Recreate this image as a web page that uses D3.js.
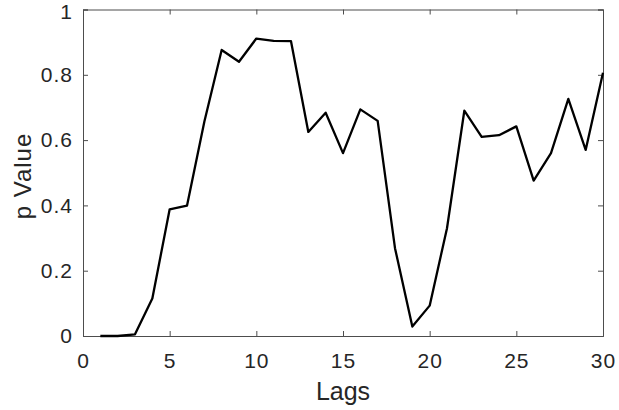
<!DOCTYPE html>
<html>
<head>
<meta charset="utf-8">
<script src="https://cdn.jsdelivr.net/npm/d3@7"></script>
<style>
  body { margin: 0; background: #fff; }
  svg text { font-family: "Liberation Sans", Arial, sans-serif; fill: #262626; }
</style>
</head>
<body>
<div id="chart"></div>
<script>
// Données
const lags = d3.range(1, 31);
const pValues = [0.0, 0.0, 0.005, 0.115, 0.388, 0.399, 0.656, 0.876, 0.840, 0.911,
                 0.904, 0.903, 0.625, 0.684, 0.560, 0.694, 0.659, 0.269, 0.029, 0.093,
                 0.330, 0.690, 0.610, 0.615, 0.642, 0.476, 0.560, 0.726, 0.570, 0.806];
const xTicks = [0, 5, 10, 15, 20, 25, 30];
const yTicks = [0, 0.2, 0.4, 0.6, 0.8, 1];

const width = 619, height = 410;
const margin = { top: 9.5, right: 16, bottom: 74, left: 83 };

const x = d3.scaleLinear().domain([0, 30]).range([margin.left, width - margin.right]);
const y = d3.scaleLinear().domain([0, 1]).range([height - margin.bottom, margin.top]);

const svg = d3.select("#chart").append("svg")
    .attr("width", width)
    .attr("height", height);

const axisColor = "#4d4d4d";

// axes (ticks vers l'intérieur, boîte complète)
const gx = svg.append("g")
    .attr("transform", `translate(0,${y(0)})`)
    .call(d3.axisBottom(x).tickValues(xTicks).tickSize(-5).tickPadding(17).tickFormat(d3.format("d")));
const gxTop = svg.append("g")
    .attr("transform", `translate(0,${y(1)})`)
    .call(d3.axisTop(x).tickValues(xTicks).tickSize(-5).tickFormat(""));
const gy = svg.append("g")
    .attr("transform", `translate(${x(0)},0)`)
    .call(d3.axisLeft(y).tickValues(yTicks).tickSize(-5).tickPadding(10).tickFormat(d => d === 0 || d === 1 ? d : d.toFixed(1)));
const gyRight = svg.append("g")
    .attr("transform", `translate(${x(30)},0)`)
    .call(d3.axisRight(y).tickValues(yTicks).tickSize(-5).tickFormat(""));

[gx, gxTop, gy, gyRight].forEach(g => {
    g.select(".domain").attr("stroke", axisColor).attr("stroke-width", 1);
    g.selectAll(".tick line").attr("stroke", axisColor);
    g.selectAll(".tick text")
        .style("font-size", "21px")
        .style("letter-spacing", "1px")
        .attr("fill", "#262626");
});

// le "1" du haut touche le bord : on le descend un peu
gy.selectAll(".tick text").filter(d => d === 1).attr("dy", "0.42em");

// courbe
const line = d3.line()
    .x((d, i) => x(lags[i]))
    .y(d => y(d));

svg.append("path")
    .datum(pValues)
    .attr("fill", "none")
    .attr("stroke", "#000")
    .attr("stroke-width", 2.3)
    .attr("stroke-linejoin", "round")
    .attr("d", line);

// titres des axes
svg.append("text")
    .attr("x", x(15))
    .attr("y", 400)
    .attr("text-anchor", "middle")
    .style("font-size", "25px")
    .text("Lags");

svg.append("text")
    .attr("transform", `translate(31,176) rotate(-90)`)
    .attr("text-anchor", "middle")
    .style("font-size", "24px")
    .style("letter-spacing", "1px")
    .text("p Value");
</script>
</body>
</html>
